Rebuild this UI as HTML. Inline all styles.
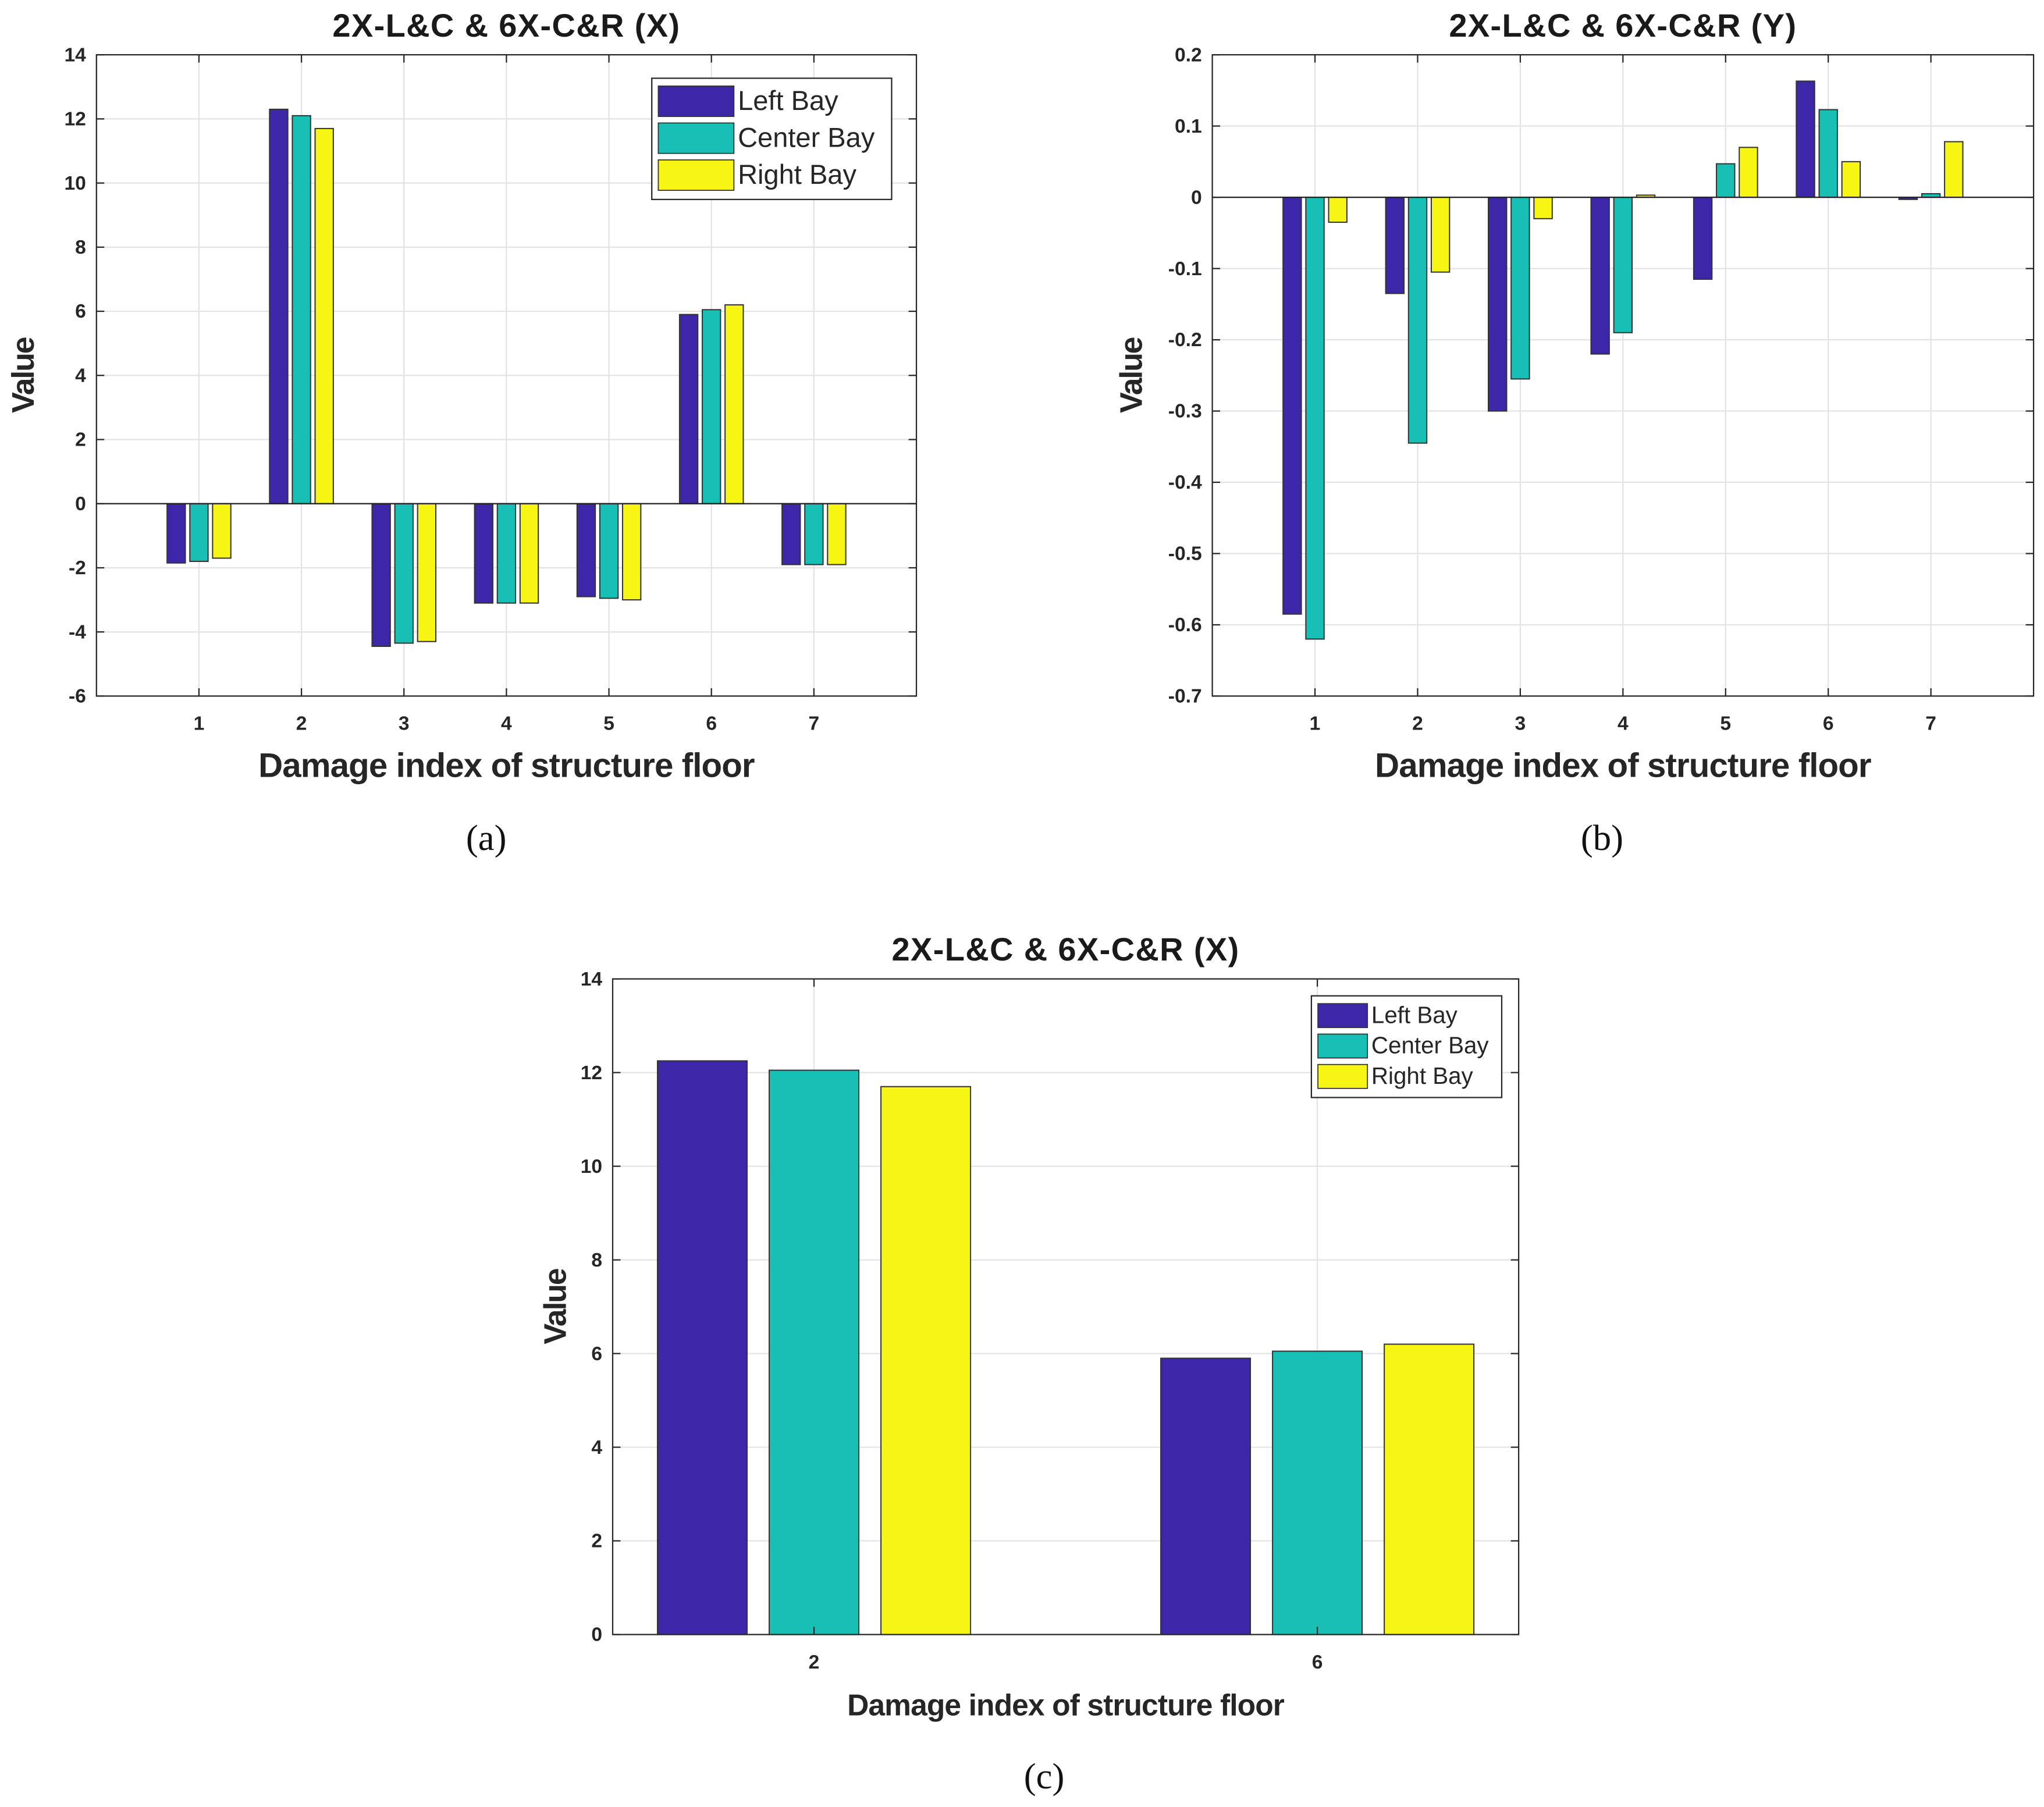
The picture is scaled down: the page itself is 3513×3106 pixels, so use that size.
<!DOCTYPE html>
<html><head><meta charset="utf-8"><style>html,body{margin:0;padding:0;background:#fff}svg{display:block}</style></head>
<body>
<svg id="root" xmlns="http://www.w3.org/2000/svg" width="3513" height="3106" viewBox="0 0 1568 1386.3">
<rect x="0" y="0" width="1568" height="1387" fill="#fff"/>
</svg>
<script>
const seriesNames = ["Left Bay", "Center Bay", "Right Bay"];
const seriesColors = ["#3d27a8", "#18bfb5", "#f6f514"];
const catsA = [1, 2, 3, 4, 5, 6, 7];
const leftA = [-1.85, 12.3, -4.45, -3.1, -2.9, 5.9, -1.9];
const centerA = [-1.8, 12.1, -4.35, -3.1, -2.95, 6.05, -1.9];
const rightA = [-1.7, 11.7, -4.3, -3.1, -3.0, 6.2, -1.9];
const ticksA = [-6, -4, -2, 0, 2, 4, 6, 8, 10, 12, 14];
const catsB = [1, 2, 3, 4, 5, 6, 7];
const leftB = [-0.585, -0.135, -0.3, -0.22, -0.115, 0.163, -0.003];
const centerB = [-0.62, -0.345, -0.255, -0.19, 0.047, 0.123, 0.005];
const rightB = [-0.035, -0.105, -0.03, 0.003, 0.07, 0.05, 0.078];
const ticksB = [-0.7, -0.6, -0.5, -0.4, -0.3, -0.2, -0.1, 0, 0.1, 0.2];
const catsC = [2, 6];
const leftC = [12.25, 5.9];
const centerC = [12.05, 6.05];
const rightC = [11.7, 6.2];
const ticksC = [0, 2, 4, 6, 8, 10, 12, 14];

const NS = "http://www.w3.org/2000/svg";
const root = document.getElementById("root");
function mk(tag, attrs, parent, text) {
  const e = document.createElementNS(NS, tag);
  for (const k in attrs) e.setAttribute(k, attrs[k]);
  if (text !== undefined) e.textContent = text;
  (parent || root).appendChild(e);
  return e;
}
function chart(c) {
  const g = mk("g", {});
  
  
  const n = c.cats.length;
  const xMin = c.xpad ? 1 - c.xpad : 0, xMax = c.xpad ? n + c.xpad : n + 1;
  const X = v => c.x0 + (v - xMin) / (xMax - xMin) * (c.x1 - c.x0);
  const Y = v => c.y1 - (v - c.ymin) / (c.ymax - c.ymin) * (c.y1 - c.y0);
  c.ticks.forEach(t => {
    const l = mk("line", {x1: c.x0, x2: c.x1, y1: Y(t), y2: Y(t), stroke: "#e3e3e3", "stroke-width": 1}, g);
    
    
  });
  c.cats.forEach((cat, i) => {
    const l = mk("line", {x1: X(i + 1), x2: X(i + 1), y1: c.y0, y2: c.y1, stroke: "#e3e3e3", "stroke-width": 1}, g);
    
    
  });
  const unit = (c.x1 - c.x0) / (xMax - xMin);
  c.series.forEach((vals, s) => {
    vals.forEach((v, i) => {
      const cx = X(i + 1) + (s - 1) * 0.222 * unit;
      const w = 0.178 * unit;
      const ya = Y(Math.max(v, 0)), yb = Y(Math.min(v, 0));
      const r = mk("rect", {x: cx - w / 2, y: ya, width: w, height: Math.max(yb - ya, 0.6), fill: seriesColors[s], stroke: "#333", "stroke-width": 0.9}, g);
      
      
    });
  });
  if (c.ymin < 0) {
    const z = mk("line", {x1: c.x0, x2: c.x1, y1: Y(0), y2: Y(0), stroke: "#222", "stroke-width": 1}, g);
    
    
  }
  const box = mk("rect", {x: c.x0, y: c.y0, width: c.x1 - c.x0, height: c.y1 - c.y0, fill: "none", stroke: "#262626", "stroke-width": 1}, g);
  
  
  c.ticks.forEach(t => {
    mk("line", {x1: c.x0, x2: c.x0 + 6, y1: Y(t), y2: Y(t), stroke: "#262626"}, g);
    mk("line", {x1: c.x1, x2: c.x1 - 6, y1: Y(t), y2: Y(t), stroke: "#262626"}, g);
    const tl = mk("text", {x: c.x0 - 8, y: Y(t) + 5, "text-anchor": "end", "font-family": "Liberation Sans, sans-serif", "font-weight": "bold", "font-size": 15, fill: "#262626"}, g, String(t));
    
    
  });
  c.cats.forEach((cat, i) => {
    mk("line", {x1: X(i + 1), x2: X(i + 1), y1: c.y1, y2: c.y1 - 6, stroke: "#262626"}, g);
    mk("line", {x1: X(i + 1), x2: X(i + 1), y1: c.y0, y2: c.y0 + 6, stroke: "#262626"}, g);
    const tl = mk("text", {x: X(i + 1), y: c.y1 + 26, "text-anchor": "middle", "font-family": "Liberation Sans, sans-serif", "font-weight": "bold", "font-size": 15, fill: "#262626"}, g, String(cat));
    
    
  });
  const cx = (c.x0 + c.x1) / 2;
  const tt = mk("text", {x: cx, y: c.y0 - 14, "text-anchor": "middle", "font-family": "Liberation Sans, sans-serif", "font-weight": "bold", "font-size": 25, "letter-spacing": "0.6", fill: "#1a1a1a"}, g, c.title);
  
  
  const xl = mk("text", {x: cx, y: c.y1 + 62, "text-anchor": "middle", "font-family": "Liberation Sans, sans-serif", "font-weight": "bold", "font-size": c.xlabFs, "letter-spacing": "-0.4", fill: "#262626"}, g, "Damage index of structure floor");
  
  
  const ym = (c.y0 + c.y1) / 2, yx = c.x0 - c.ylabOff;
  const yl = mk("text", {x: yx, y: ym, transform: `rotate(-90 ${yx} ${ym})`, "text-anchor": "middle", "font-family": "Liberation Sans, sans-serif", "font-weight": "bold", "font-size": 24, "letter-spacing": "-1", fill: "#262626"}, g, "Value");
  
  
  const L = c.legend;
  if (!L) return;
  const lg = mk("g", {}, g);
  
  
  mk("rect", {x: L.x, y: L.y, width: L.w, height: L.h, fill: "#fff", stroke: "#262626", "stroke-width": 1}, lg);
  const rowH = (L.h - 8) / 3;
  seriesNames.forEach((nm, s) => {
    const ry = L.y + 4 + s * rowH;
    const sw = mk("rect", {x: L.x + 5, y: ry + 2, width: L.sw, height: rowH - 5, fill: seriesColors[s], stroke: "#333", "stroke-width": 0.8}, lg);
    
    
    const t = mk("text", {x: L.x + 8 + L.sw, y: ry + rowH * 0.72, "font-family": "Liberation Sans, sans-serif", "font-size": L.fs, fill: "#262626"}, lg, nm);
    
    
  });
}
chart({name: "chart-a", title: "2X-L&C & 6X-C&R (X)", x0: 74, x1: 703, y0: 42, y1: 534, ymin: -6, ymax: 14, ticks: ticksA, cats: catsA, series: [leftA, centerA, rightA], ylabOff: 48, xlabFs: 26, legend: {x: 500, y: 60, w: 184, h: 93, sw: 58, fs: 21}});
chart({name: "chart-b", title: "2X-L&C & 6X-C&R (Y)", x0: 930, x1: 1560, y0: 42, y1: 534, ymin: -0.7, ymax: 0.2, ticks: ticksB, cats: catsB, series: [leftB, centerB, rightB], ylabOff: 54, xlabFs: 26, legend: null});
chart({name: "chart-c", title: "2X-L&C & 6X-C&R (X)", x0: 470, x1: 1165, y0: 751, y1: 1254, ymin: 0, ymax: 14, ticks: ticksC, cats: catsC, series: [leftC, centerC, rightC], xpad: 0.4, ylabOff: 36, xlabFs: 23, legend: {x: 1006, y: 764, w: 146, h: 78, sw: 38, fs: 18}});
[["(a)", 373, 652], ["(b)", 1229, 652], ["(c)", 801, 1372]].forEach(([t, x, y]) => {
  const e = mk("text", {x: x, y: y, "text-anchor": "middle", "font-family": "Liberation Serif, serif", "font-size": 28, fill: "#111"}, root, t);
  
  
});
</script>
</body></html>
